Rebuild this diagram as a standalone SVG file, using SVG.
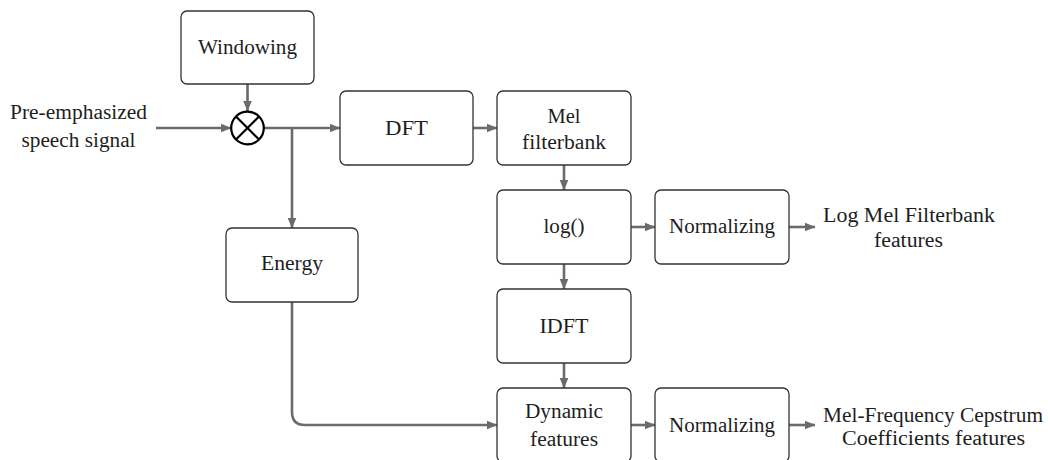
<svg xmlns="http://www.w3.org/2000/svg" width="1048" height="460" viewBox="0 0 1048 460">
<defs>
<style>
.box{fill:#fff;stroke:#333;stroke-width:1.3}
.lbl{font-family:'Liberation Serif','Times New Roman',serif;font-size:20px;fill:#1e1e1e;text-anchor:middle}
.con{fill:none;stroke:#6b6b6b;stroke-width:2.6}
.arr{marker-end:url(#ah)}
</style>
<marker id="ah" markerUnits="userSpaceOnUse" viewBox="0 0 11 10" refX="10.5" refY="5" markerWidth="11" markerHeight="10" orient="auto">
<path d="M0,0.5 L11,5 L0,9.5 Z" fill="#6b6b6b"/>
</marker>
</defs>
<rect width="1048" height="460" fill="#fff"/>
<g id="connectors">
<path class="con arr" d="M247.5,84 V111"/>
<path class="con arr" d="M156,128 H231"/>
<path class="con arr" d="M264,128 H340"/>
<path class="con arr" d="M292,128 V228"/>
<path class="con arr" d="M473,128 H497"/>
<path class="con arr" d="M564,165 V190"/>
<path class="con arr" d="M631,227 H655"/>
<path class="con arr" d="M789,227 H815"/>
<path class="con arr" d="M564,264 V289"/>
<path class="con arr" d="M564,363 V388"/>
<path class="con arr" d="M292,302 V412 Q292,425 305,425 H497"/>
<path class="con arr" d="M631,425 H655"/>
<path class="con arr" d="M789,425 H815"/>
</g>
<g id="input">
<text class="lbl" x="78.5" y="119" textLength="137" lengthAdjust="spacingAndGlyphs">Pre-emphasized</text>
<text class="lbl" x="78.5" y="146.5" textLength="114" lengthAdjust="spacingAndGlyphs">speech signal</text>
</g>
<g id="windowing">
<rect class="box" x="181" y="11" width="133" height="73" rx="6"/>
<text class="lbl" x="247.5" y="53.5" textLength="99" lengthAdjust="spacingAndGlyphs">Windowing</text>
</g>
<g id="multiplier">
<circle cx="247.5" cy="128" r="16.3" fill="#fff" stroke="#000" stroke-width="2.2"/>
<path d="M236,116.5 L259,139.5 M259,116.5 L236,139.5" stroke="#000" stroke-width="2.2"/>
</g>
<g id="dft">
<rect class="box" x="340" y="91" width="133" height="74" rx="6"/>
<text class="lbl" x="406.5" y="135" textLength="43" lengthAdjust="spacingAndGlyphs">DFT</text>
</g>
<g id="mel">
<rect class="box" x="497" y="91" width="134" height="74" rx="6"/>
<text class="lbl" x="564" y="122.5" textLength="33" lengthAdjust="spacingAndGlyphs">Mel</text>
<text class="lbl" x="564" y="149" textLength="84" lengthAdjust="spacingAndGlyphs">filterbank</text>
</g>
<g id="log">
<rect class="box" x="497" y="190" width="134" height="74" rx="6"/>
<text class="lbl" x="564" y="233" textLength="41" lengthAdjust="spacingAndGlyphs">log()</text>
</g>
<g id="norm1">
<rect class="box" x="655" y="190" width="134" height="74" rx="6"/>
<text class="lbl" x="722" y="233" textLength="106" lengthAdjust="spacingAndGlyphs">Normalizing</text>
</g>
<g id="energy">
<rect class="box" x="226" y="228" width="132" height="74" rx="6"/>
<text class="lbl" x="292" y="270" textLength="62" lengthAdjust="spacingAndGlyphs">Energy</text>
</g>
<g id="idft">
<rect class="box" x="497" y="289" width="134" height="74" rx="6"/>
<text class="lbl" x="564" y="333" textLength="49" lengthAdjust="spacingAndGlyphs">IDFT</text>
</g>
<g id="dynamic">
<rect class="box" x="497" y="388" width="134" height="74" rx="6"/>
<text class="lbl" x="564" y="418" textLength="78" lengthAdjust="spacingAndGlyphs">Dynamic</text>
<text class="lbl" x="564" y="445.5" textLength="68" lengthAdjust="spacingAndGlyphs">features</text>
</g>
<g id="norm2">
<rect class="box" x="655" y="388" width="134" height="74" rx="6"/>
<text class="lbl" x="722" y="432" textLength="106" lengthAdjust="spacingAndGlyphs">Normalizing</text>
</g>
<g id="out1">
<text class="lbl" x="909" y="221.5" textLength="172" lengthAdjust="spacingAndGlyphs">Log Mel Filterbank</text>
<text class="lbl" x="908.5" y="247" textLength="69" lengthAdjust="spacingAndGlyphs">features</text>
</g>
<g id="out2">
<text class="lbl" x="933" y="421.5" textLength="220" lengthAdjust="spacingAndGlyphs">Mel-Frequency Cepstrum</text>
<text class="lbl" x="933.5" y="445" textLength="183" lengthAdjust="spacingAndGlyphs">Coefficients features</text>
</g>
</svg>
